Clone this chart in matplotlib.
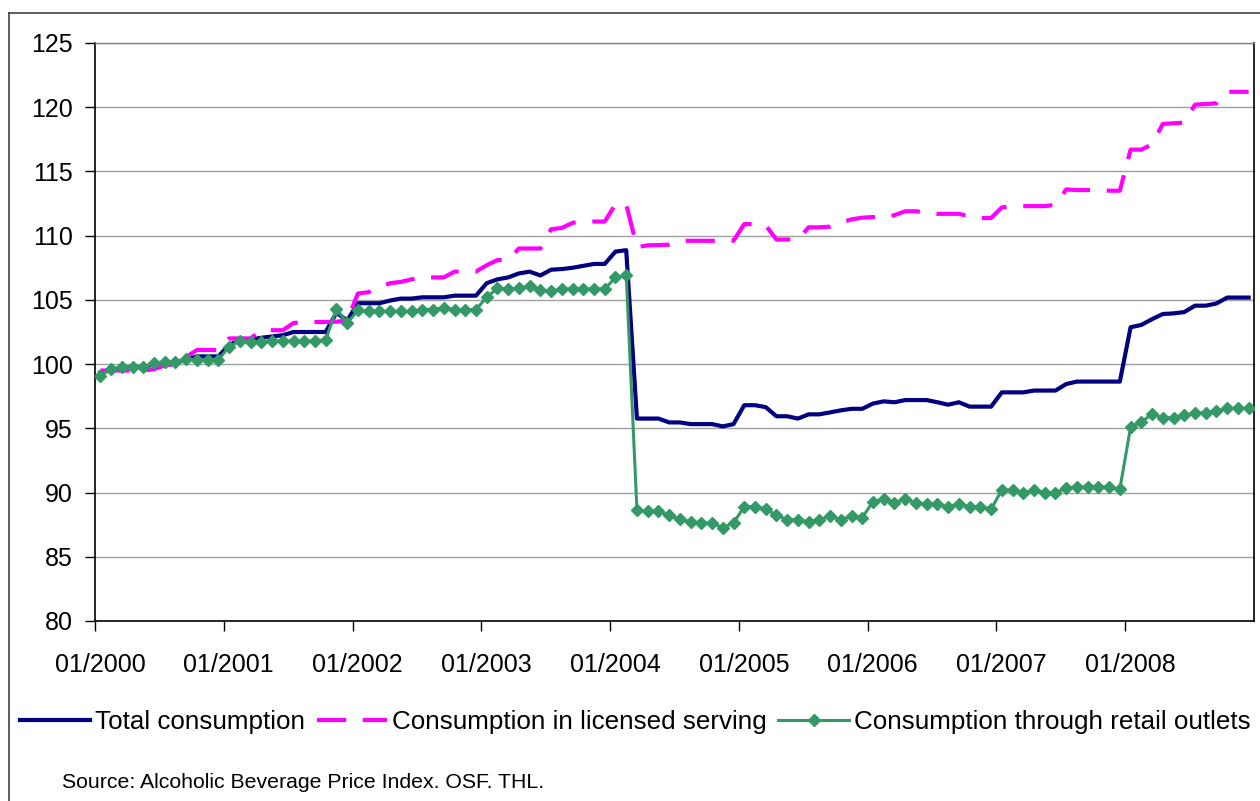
import numpy as np
import matplotlib
matplotlib.use('Agg')
import matplotlib.pyplot as plt
import matplotlib.transforms as mtrans
from matplotlib.lines import Line2D

plt.rcParams['font.family'] = ['Liberation Sans', 'DejaVu Sans']

# monthly index values, 01/2000 .. 12/2008
total = [99.35, 99.55, 99.7, 99.75, 99.75, 100.0, 100.1, 100.15, 100.35, 100.6, 100.6, 100.6,
         101.5, 101.85, 101.9, 102.05, 102.15, 102.25, 102.5, 102.5, 102.5, 102.5, 104.0, 103.4,
         104.74, 104.74, 104.74, 104.95, 105.1, 105.1, 105.2, 105.2, 105.2, 105.33, 105.33, 105.33,
         106.3, 106.6, 106.75, 107.06, 107.2, 106.9, 107.35, 107.4, 107.5, 107.65, 107.8, 107.8,
         108.76, 108.87, 95.76, 95.76, 95.76, 95.46, 95.46, 95.33, 95.33, 95.33, 95.15, 95.33,
         96.8, 96.8, 96.65, 95.94, 95.94, 95.76, 96.09, 96.09, 96.24, 96.4, 96.52, 96.52,
         96.93, 97.1, 97.03, 97.2, 97.2, 97.2, 97.03, 96.84, 97.03, 96.69, 96.69, 96.69,
         97.8, 97.8, 97.8, 97.94, 97.94, 97.94, 98.45, 98.64, 98.64, 98.64, 98.64, 98.64,
         102.87, 103.05, 103.5, 103.9, 103.95, 104.05, 104.55, 104.55, 104.72, 105.18, 105.18, 105.18]

licensed = [99.5, 99.5, 99.5, 99.5, 99.5, 99.6, 99.9, 100.0, 100.55, 101.1, 101.1, 101.1,
            102.0, 102.0, 102.0, 102.64, 102.64, 102.64, 103.2, 103.28, 103.28, 103.28, 103.3, 103.4,
            105.5, 105.6, 106.0, 106.3, 106.4, 106.6, 106.75, 106.75, 106.75, 107.2, 107.2, 107.2,
            107.7, 108.1, 108.1, 109.0, 109.0, 109.0, 110.5, 110.6, 111.0, 111.1, 111.1, 111.1,
            112.45, 112.45, 109.1, 109.25, 109.27, 109.3, 109.6, 109.6, 109.6, 109.6, 109.6, 109.6,
            110.9, 110.9, 110.8, 109.7, 109.7, 109.7, 110.65, 110.65, 110.7, 111.0, 111.27, 111.4,
            111.45, 111.4, 111.6, 111.9, 111.9, 111.8, 111.7, 111.7, 111.7, 111.5, 111.37, 111.37,
            112.2, 112.3, 112.3, 112.3, 112.3, 112.4, 113.6, 113.55, 113.55, 113.55, 113.5, 113.5,
            116.7, 116.7, 117.1, 118.7, 118.75, 118.8, 120.2, 120.25, 120.3, 121.2, 121.2, 121.2]

retail = [99.1, 99.6, 99.77, 99.77, 99.77, 100.08, 100.18, 100.18, 100.38, 100.33, 100.33, 100.33,
          101.36, 101.8, 101.7, 101.7, 101.8, 101.8, 101.8, 101.8, 101.8, 101.9, 104.3, 103.2,
          104.18, 104.1, 104.1, 104.1, 104.1, 104.1, 104.25, 104.25, 104.4, 104.25, 104.25, 104.25,
          105.2, 105.9, 105.85, 105.9, 106.1, 105.77, 105.67, 105.85, 105.85, 105.85, 105.85, 105.85,
          106.75, 106.93, 88.65, 88.53, 88.53, 88.22, 87.92, 87.72, 87.64, 87.64, 87.26, 87.64,
          88.9, 88.9, 88.73, 88.22, 87.9, 87.9, 87.72, 87.9, 88.15, 87.9, 88.15, 88.05,
          89.3, 89.48, 89.22, 89.48, 89.22, 89.1, 89.1, 88.9, 89.1, 88.9, 88.9, 88.7,
          90.2, 90.2, 90.0, 90.18, 90.0, 90.0, 90.34, 90.44, 90.44, 90.44, 90.44, 90.26,
          95.1, 95.5, 96.1, 95.84, 95.84, 96.0, 96.2, 96.2, 96.36, 96.55, 96.55, 96.55]

year_labels = ['01/2000', '01/2001', '01/2002', '01/2003', '01/2004',
               '01/2005', '01/2006', '01/2007', '01/2008']
series_names = ['Total consumption', 'Consumption in licensed serving',
                'Consumption through retail outlets']

BLUE = '#000080'
MAGENTA = '#FF00FF'
GREEN = '#339966'
DASH = (0, (7, 4))

fig = plt.figure(figsize=(12.6, 8.01), dpi=100)
ax = fig.add_axes([95/1260, 1-621/801, (1254-95)/1260, (621-43)/801])

x = np.arange(len(total)) + 0.5

ax.plot(x, total, color=BLUE, lw=3, zorder=3)
ax.plot(x, licensed, color=MAGENTA, lw=3, linestyle=DASH, zorder=3)
ax.plot(x, retail, color=GREEN, lw=2.2, marker='D', markersize=6, zorder=4)

ax.set_xlim(0, len(total))
ax.set_ylim(80, 125)
ax.set_yticks(range(80, 126, 5))
ax.set_xticks(range(0, 97, 12))
ax.set_xticklabels(year_labels)
ax.tick_params(axis='y', labelsize=18, length=7, width=1, pad=9, direction='out')
ax.tick_params(axis='x', labelsize=18, length=7, width=1, pad=16, direction='out')
# Excel puts the date labels a little right of the tick
shift = mtrans.ScaledTranslation(5/100, 0, fig.dpi_scale_trans)
for lab in ax.get_xticklabels():
    lab.set_transform(lab.get_transform() + shift)
ax.yaxis.grid(True, color='#a0a0a0', lw=1)
ax.set_axisbelow(True)

for s in ['left', 'bottom', 'right']:
    ax.spines[s].set_color('black')
    ax.spines[s].set_linewidth(1.2)
ax.spines['top'].set_color('#808080')
ax.spines['top'].set_linewidth(1)

# legend under the plot
handles = [Line2D([], [], color=BLUE, lw=3),
           Line2D([], [], color=MAGENTA, lw=3, linestyle=DASH),
           Line2D([], [], color=GREEN, lw=2.2, marker='D', markersize=6)]
fig.legend(handles, series_names, loc='center', bbox_to_anchor=(0.504, 1-722/801),
           ncol=3, frameon=False, fontsize=18.7, handlelength=2.7, handletextpad=0.2,
           columnspacing=0.45, numpoints=1)

fig.text(62/1260, 1-783/801, 'Source: Alcoholic Beverage Price Index. OSF. THL.',
         fontsize=15.3, va='center', ha='left')

# outer chart frame
fig.add_artist(Line2D([9/1260, 9/1260], [0, 1-13/801], transform=fig.transFigure,
                      color='#404040', lw=1.2))
fig.add_artist(Line2D([9/1260, 1], [1-13/801, 1-13/801], transform=fig.transFigure,
                      color='#404040', lw=1.2))

fig.savefig('out.png', dpi=100)
